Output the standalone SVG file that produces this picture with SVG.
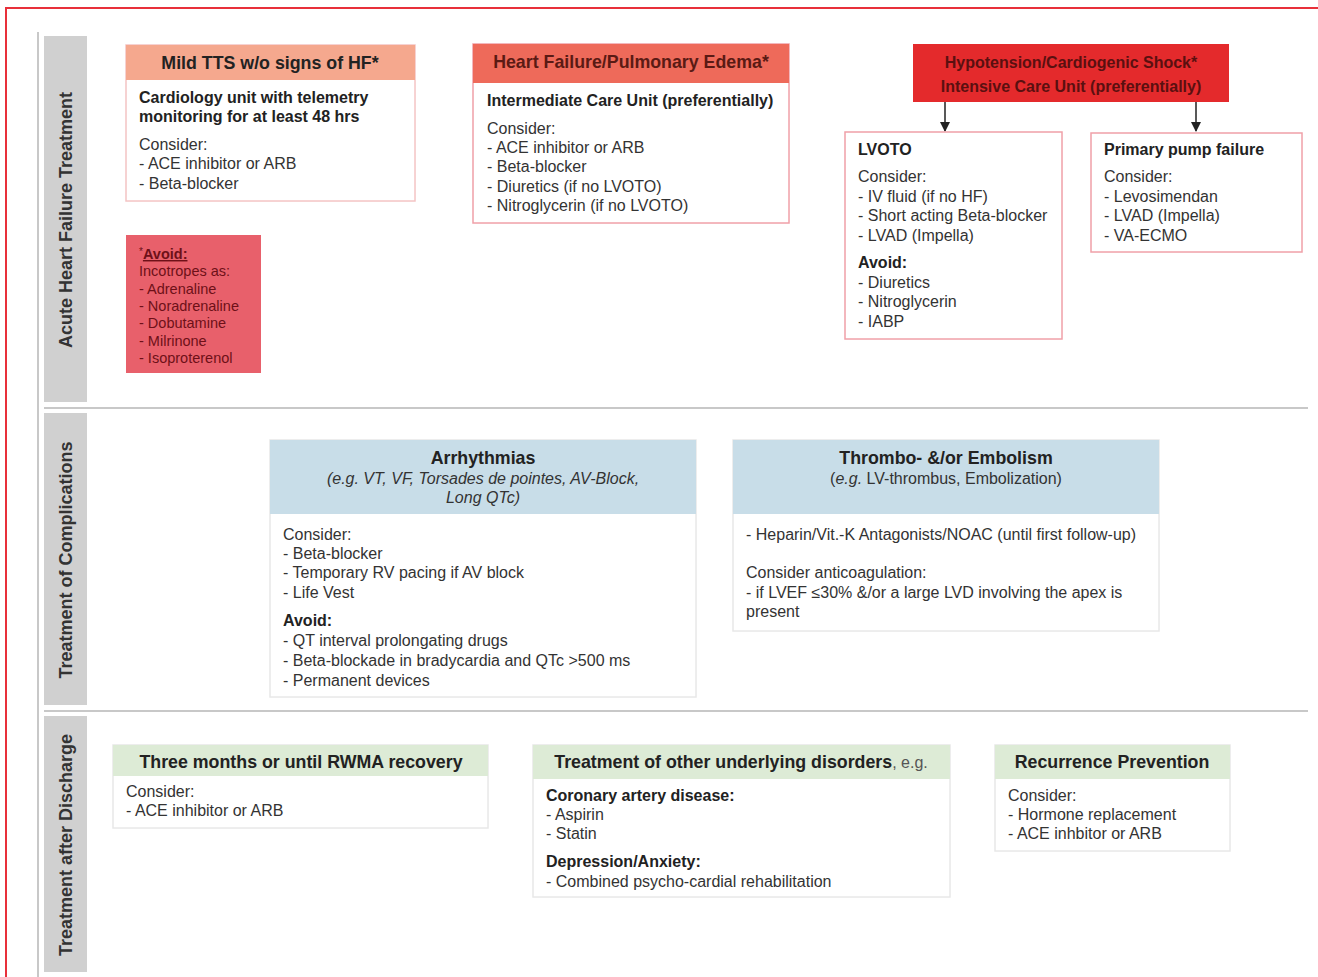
<svg xmlns="http://www.w3.org/2000/svg" width="1318" height="977" viewBox="0 0 1318 977">
<defs>
<style>
text{font-family:"Liberation Sans",Arial,sans-serif;fill:#333;font-size:16px}
.b{font-weight:bold;fill:#222}
.h{font-weight:bold;text-anchor:middle;fill:#222;font-size:17.8px}
.i{font-style:italic}
.sec{font-weight:bold;font-size:18px;text-anchor:middle;fill:#333}
.box{fill:#fff;stroke:#e8e8e8;stroke-width:1.5}
.pbox{fill:#fff;stroke:#f0a0a8;stroke-width:1.5}
.side{fill:#d0d0d0}
.av text{fill:#6e1018;font-size:14.5px}
.hy{fill:#5a1010;font-weight:bold;text-anchor:middle}
</style>
<marker id="ad" markerWidth="10" markerHeight="10" refX="5" refY="9" markerUnits="userSpaceOnUse" viewBox="0 0 10 10">
<path d="M0,0 L10,0 L5,10 Z" fill="#222"/>
</marker>
</defs>
<rect width="1318" height="977" fill="#fff"/>
<path d="M6,977 V8 H1318" fill="none" stroke="#e8303a" stroke-width="2"/>
<line x1="38" y1="32" x2="38" y2="977" stroke="#c8c8c8" stroke-width="2"/>
<line x1="44" y1="408" x2="1308" y2="408" stroke="#c8c8c8" stroke-width="2"/>
<line x1="44" y1="711" x2="1308" y2="711" stroke="#c8c8c8" stroke-width="2"/>

<g id="sec1"><rect class="side" x="44" y="36" width="43" height="366"/>
<text class="sec" transform="translate(72,220) rotate(-90)">Acute Heart Failure Treatment</text></g>
<g id="sec2"><rect class="side" x="44" y="413" width="43" height="292"/>
<text class="sec" transform="translate(72,560) rotate(-90)">Treatment of Complications</text></g>
<g id="sec3"><rect class="side" x="44" y="716" width="43" height="256"/>
<text class="sec" transform="translate(72,845) rotate(-90)">Treatment after Discharge</text></g>

<g id="mild">
<rect class="pbox" x="126" y="45" width="289" height="156" style="stroke:#f4c4c4"/>
<rect x="126" y="45" width="289" height="35" fill="#f5a88e"/>
<text class="h" x="270" y="69">Mild TTS w/o signs of HF*</text>
<text class="b" x="139" y="103">Cardiology unit with telemetry</text>
<text class="b" x="139" y="122">monitoring for at least 48 hrs</text>
<text x="139" y="150">Consider:</text>
<text x="139" y="169">- ACE inhibitor or ARB</text>
<text x="139" y="189">- Beta-blocker</text>
</g>

<g id="avoid" class="av">
<rect x="126" y="235" width="135" height="138" fill="#e8606b"/>
<text x="139" y="259"><tspan font-size="10" dy="-4">*</tspan><tspan class="b" style="fill:#6e1018" text-decoration="underline" dy="4">Avoid:</tspan></text>
<text x="139" y="276">Incotropes as:</text>
<text x="139" y="294">- Adrenaline</text>
<text x="139" y="311">- Noradrenaline</text>
<text x="139" y="328">- Dobutamine</text>
<text x="139" y="346">- Milrinone</text>
<text x="139" y="363">- Isoproterenol</text>
</g>

<g id="hf">
<rect class="pbox" x="473" y="44" width="316" height="179"/>
<rect x="473" y="44" width="316" height="39" fill="#ee6a5a"/>
<text class="h" x="631" y="68" style="fill:#5a1a14">Heart Failure/Pulmonary Edema*</text>
<text class="b" x="487" y="106">Intermediate Care Unit (preferentially)</text>
<text x="487" y="134">Consider:</text>
<text x="487" y="153">- ACE inhibitor or ARB</text>
<text x="487" y="172">- Beta-blocker</text>
<text x="487" y="192">- Diuretics (if no LVOTO)</text>
<text x="487" y="211">- Nitroglycerin (if no LVOTO)</text>
</g>

<g id="shock">
<rect x="913" y="44" width="316" height="58" fill="#e42a2c"/>
<text class="hy" x="1071" y="68" font-size="17.8">Hypotension/Cardiogenic Shock*</text>
<text class="hy" x="1071" y="92" font-size="16">Intensive Care Unit (preferentially)</text>
</g>

<g id="connectors">
<line x1="945" y1="102" x2="945" y2="131" stroke="#222" stroke-width="1.5" marker-end="url(#ad)"/>
<line x1="1196" y1="102" x2="1196" y2="131" stroke="#222" stroke-width="1.5" marker-end="url(#ad)"/>
</g>

<g id="lvoto">
<rect class="pbox" x="845" y="132" width="217" height="207"/>
<text class="b" x="858" y="155">LVOTO</text>
<text x="858" y="182">Consider:</text>
<text x="858" y="202">- IV fluid (if no HF)</text>
<text x="858" y="221">- Short acting Beta-blocker</text>
<text x="858" y="241">- LVAD (Impella)</text>
<text class="b" x="858" y="268">Avoid:</text>
<text x="858" y="288">- Diuretics</text>
<text x="858" y="307">- Nitroglycerin</text>
<text x="858" y="327">- IABP</text>
</g>

<g id="pump">
<rect class="pbox" x="1091" y="133" width="211" height="119"/>
<text class="b" x="1104" y="155">Primary pump failure</text>
<text x="1104" y="182">Consider:</text>
<text x="1104" y="202">- Levosimendan</text>
<text x="1104" y="221">- LVAD (Impella)</text>
<text x="1104" y="241">- VA-ECMO</text>
</g>

<g id="arrhythmias">
<rect class="box" x="270" y="440" width="426" height="257"/>
<rect x="270" y="440" width="426" height="74" fill="#c8dde8"/>
<text class="h" x="483" y="464">Arrhythmias</text>
<text class="i" x="483" y="484" text-anchor="middle" font-size="16.5">(e.g. VT, VF, Torsades de pointes, AV-Block,</text>
<text class="i" x="483" y="503" text-anchor="middle" font-size="16.5">Long  QTc)</text>
<text x="283" y="540">Consider:</text>
<text x="283" y="559">- Beta-blocker</text>
<text x="283" y="578">- Temporary RV pacing if AV block</text>
<text x="283" y="598">- Life Vest</text>
<text class="b" x="283" y="626">Avoid:</text>
<text x="283" y="646">- QT interval prolongating drugs</text>
<text x="283" y="666">- Beta-blockade in bradycardia and QTc &gt;500 ms</text>
<text x="283" y="686">- Permanent devices</text>
</g>

<g id="thrombo">
<rect class="box" x="733" y="440" width="426" height="191"/>
<rect x="733" y="440" width="426" height="74" fill="#c8dde8"/>
<text class="h" x="946" y="464">Thrombo- &amp;/or Embolism</text>
<text x="946" y="484" text-anchor="middle">(<tspan class="i">e.g.</tspan> LV-thrombus, Embolization)</text>
<text x="746" y="540">- Heparin/Vit.-K Antagonists/NOAC (until first follow-up)</text>
<text x="746" y="578">Consider anticoagulation:</text>
<text x="746" y="598">- if LVEF ≤30% &amp;/or a large LVD involving the apex is</text>
<text x="746" y="617">present</text>
</g>

<g id="three">
<rect class="box" x="113" y="745" width="375" height="83"/>
<rect x="113" y="745" width="375" height="31" fill="#ddebd6"/>
<text class="h" x="301" y="768">Three months or until RWMA recovery</text>
<text x="126" y="797">Consider:</text>
<text x="126" y="816">- ACE inhibitor or ARB</text>
</g>

<g id="other">
<rect class="box" x="533" y="745" width="417" height="152"/>
<rect x="533" y="745" width="417" height="34" fill="#ddebd6"/>
<text class="h" x="741" y="768">Treatment of other underlying disorders<tspan font-weight="normal" font-size="16" fill="#555">, e.g.</tspan></text>
<text class="b" x="546" y="801">Coronary artery disease:</text>
<text x="546" y="820">- Aspirin</text>
<text x="546" y="839">- Statin</text>
<text class="b" x="546" y="867">Depression/Anxiety:</text>
<text x="546" y="887">- Combined psycho-cardial rehabilitation</text>
</g>

<g id="recurrence">
<rect class="box" x="995" y="745" width="235" height="106"/>
<rect x="995" y="745" width="235" height="34" fill="#ddebd6"/>
<text class="h" x="1112" y="768">Recurrence Prevention</text>
<text x="1008" y="801">Consider:</text>
<text x="1008" y="820">- Hormone replacement</text>
<text x="1008" y="839">- ACE inhbitor or ARB</text>
</g>
</svg>
